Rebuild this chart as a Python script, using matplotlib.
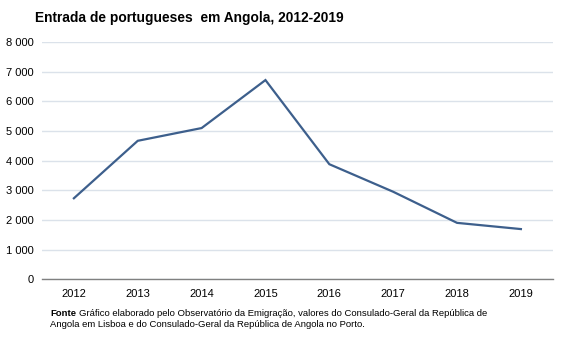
import matplotlib
matplotlib.use("Agg")
import matplotlib.pyplot as plt
from matplotlib.ticker import FuncFormatter

plt.rcParams['font.family'] = ['Liberation Sans', 'DejaVu Sans']

years = ["2012", "2013", "2014", "2015", "2016", "2017", "2018", "2019"]
entradas = [2730, 4670, 5100, 6720, 3880, 2950, 1900, 1690]
y_ticks = [0, 1000, 2000, 3000, 4000, 5000, 6000, 7000, 8000]

fig = plt.figure(figsize=(5.67, 3.4), dpi=100)
ax = fig.add_axes([0.074, 0.179, 0.901, 0.697])

x = list(range(len(years)))
ax.plot(x, entradas, color="#3d5f8c", linewidth=1.6, solid_joinstyle="miter")

ax.set_xlim(-0.5, len(years) - 0.5)
ax.set_ylim(0, 8000)
ax.set_yticks(y_ticks)
ax.yaxis.set_major_formatter(FuncFormatter(lambda v, p: f"{int(v):,}".replace(",", " ")))
ax.set_xticks(x)
ax.set_xticklabels(years)

ax.grid(axis="y", color="#dbe2ea", linewidth=1)
ax.set_axisbelow(True)
for s in ["top", "right", "left"]:
    ax.spines[s].set_visible(False)
ax.spines["bottom"].set_color("#808080")
ax.spines["bottom"].set_linewidth(1)
ax.tick_params(axis="both", length=0, labelsize=8, colors="#000000", pad=6)
ax.tick_params(axis="x", pad=7)

fig.text(0.062, 0.946, "Entrada de portugueses  em Angola, 2012-2019",
         fontsize=9.9, fontweight="bold", ha="left", va="center")

fig.text(0.088, 0.078, "Fonte", fontsize=6.8, fontweight="bold", ha="left", va="center")
fig.text(0.139, 0.078, "Gráfico elaborado pelo Observatório da Emigração, valores do Consulado-Geral da República de",
         fontsize=6.8, ha="left", va="center")
fig.text(0.088, 0.046, "Angola em Lisboa e do Consulado-Geral da República de Angola no Porto.",
         fontsize=6.8, ha="left", va="center")

fig.savefig("out.png", dpi=100)
